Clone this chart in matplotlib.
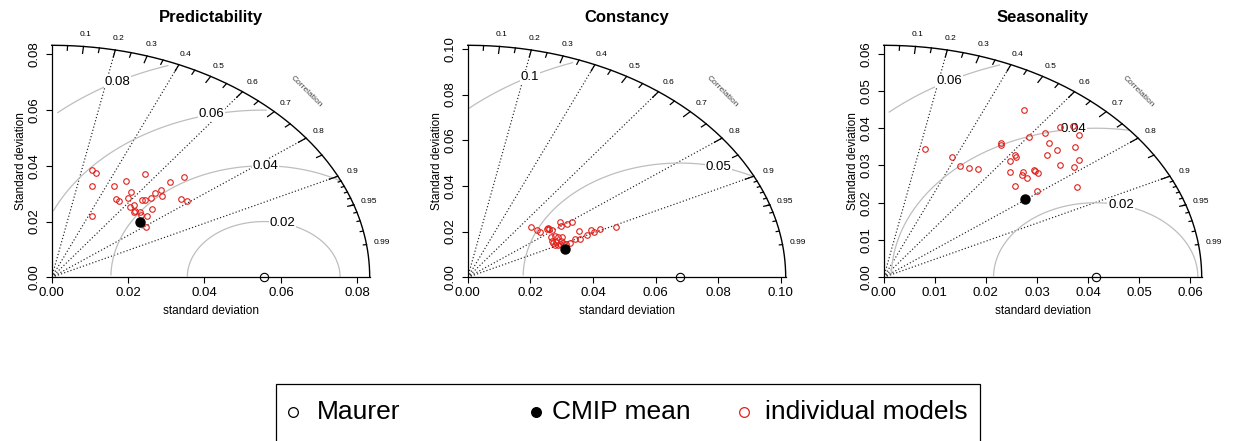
import numpy as np
import matplotlib
matplotlib.use("Agg")
import matplotlib.pyplot as plt
from matplotlib.lines import Line2D
from matplotlib.patches import Rectangle

plt.rcParams["font.family"] = ["Liberation Sans", "DejaVu Sans"]

# ---------------------------------------------------------------------------
# DATA (standard deviation / correlation)
# ---------------------------------------------------------------------------
TITLES = ["Predictability", "Constancy", "Seasonality"]
REF_SD = [0.0555, 0.0677, 0.0415]          # Maurer (reference)
MEAN_SD = [0.0304, 0.0334, 0.0347]         # CMIP mean
MEAN_COR = [0.758, 0.927, 0.798]
GAMMAS = [[0.02, 0.04, 0.06, 0.08], [0.05, 0.1], [0.02, 0.04, 0.06]]
SD_TICKS = [
    [0.00, 0.02, 0.04, 0.06, 0.08],
    [0.00, 0.02, 0.04, 0.06, 0.08, 0.10],
    [0.00, 0.01, 0.02, 0.03, 0.04, 0.05, 0.06],
]
CORR_LINES = [0.2, 0.4, 0.6, 0.8, 0.9]
CORR_LABELS = [0.1, 0.2, 0.3, 0.4, 0.5, 0.6, 0.7, 0.8, 0.9, 0.95, 0.99]

pred_sd = [0.0400, 0.0392, 0.0345, 0.0244, 0.0367, 0.0396, 0.0442, 0.0329,
           0.0325, 0.0348, 0.0368, 0.0324, 0.0336, 0.0318, 0.0323, 0.0329,
           0.0324, 0.0364, 0.0369, 0.0385, 0.0405, 0.0424, 0.0409, 0.0358,
           0.0333, 0.0305, 0.0460, 0.0500, 0.0440, 0.0447]
pred_cor = [0.263, 0.295, 0.307, 0.429, 0.446, 0.493, 0.550, 0.514, 0.544,
            0.572, 0.562, 0.629, 0.641, 0.674, 0.677, 0.699, 0.721, 0.646,
            0.661, 0.673, 0.665, 0.672, 0.705, 0.730, 0.749, 0.808, 0.673,
            0.691, 0.770, 0.793]

const_sd = [0.0300, 0.0303, 0.0305, 0.0328, 0.0333, 0.0335, 0.0339, 0.0381,
            0.0373, 0.0393, 0.0411, 0.0407, 0.0319, 0.0331, 0.0339, 0.0350,
            0.0311, 0.0312, 0.0322, 0.0328, 0.0340, 0.0313, 0.0321, 0.0338,
            0.0348, 0.0360, 0.0381, 0.0395, 0.0424, 0.0446, 0.0448, 0.0473,
            0.0524]
const_cor = [0.679, 0.732, 0.762, 0.768, 0.766, 0.773, 0.796, 0.772, 0.802,
             0.807, 0.808, 0.870, 0.832, 0.839, 0.852, 0.862, 0.861, 0.875,
             0.879, 0.896, 0.896, 0.889, 0.899, 0.885, 0.906, 0.911, 0.897,
             0.905, 0.902, 0.886, 0.897, 0.895, 0.906]

seas_sd = [0.0354, 0.0350, 0.0334, 0.0336, 0.0344, 0.0427, 0.0424, 0.0397,
           0.0375, 0.0417, 0.0414, 0.0355, 0.0393, 0.0385, 0.0388, 0.0525,
           0.0472, 0.0413, 0.0412, 0.0411, 0.0379, 0.0501, 0.0458, 0.0485,
           0.0482, 0.0532, 0.0458, 0.0550, 0.0512, 0.0477, 0.0541, 0.0495,
           0.0450]
seas_cor = [0.231, 0.382, 0.445, 0.495, 0.537, 0.538, 0.542, 0.621, 0.658,
            0.618, 0.627, 0.725, 0.696, 0.701, 0.725, 0.522, 0.601, 0.714,
            0.721, 0.733, 0.793, 0.632, 0.699, 0.667, 0.704, 0.650, 0.755,
            0.672, 0.730, 0.783, 0.706, 0.774, 0.843]

MODEL_SD = [pred_sd, const_sd, seas_sd]
MODEL_COR = [pred_cor, const_cor, seas_cor]
LEGEND_LABELS = ["Maurer", "CMIP mean", "individual models"]


def polar(sd, cor):
    sd = np.asarray(sd, dtype=float)
    cor = np.asarray(cor, dtype=float)
    return sd * cor, sd * np.sqrt(1 - cor ** 2)


def taylor(ax, title, ref_sd, sd, cor, mean_sd, mean_cor, gammas, ticks):
    maxsd = 1.5 * ref_sd
    ax.set_xlim(0, maxsd)
    ax.set_ylim(0, maxsd)
    ax.spines[["top", "right"]].set_visible(False)
    ax.spines[["left", "bottom"]].set_linewidth(0.9)

    # dotted correlation rays
    for g in CORR_LINES:
        ax.plot([0, maxsd * g], [0, maxsd * np.sqrt(1 - g * g)],
                ls=(0, (1, 1.8)), color="#222222", lw=0.85)

    # centred RMS difference arcs (grey)
    t = np.arange(0, np.pi, 0.03)
    lab_idx = np.linspace(45, 70, len(gammas)).astype(int) - 1
    for g, li in zip(gammas, lab_idx):
        xc = np.cos(t) * g + ref_sd
        yc = np.sin(t) * g
        keep = (xc >= 0) & (xc ** 2 + yc ** 2 <= maxsd ** 2)
        ax.plot(xc[keep], yc[keep], color="#bebebe", lw=0.9)
        if xc[li] > 0:
            ax.text(xc[li], yc[li], f"{g:g}", ha="center", va="center",
                    fontsize=9.5, zorder=4,
                    bbox=dict(fc="white", ec="none", pad=0.6))

    # outer correlation arc and its ticks
    a = np.linspace(0, np.pi / 2, 200)
    ax.plot(np.cos(a) * maxsd, np.sin(a) * maxsd, color="black", lw=1.0,
            clip_on=False)
    tick_sets = [(np.arange(1, 10) / 10, 0.97),
                 (np.arange(5, 100, 10) / 100, 0.98),
                 (np.arange(91, 100) / 100, 0.99)]
    for vals, frac in tick_sets:
        for ang in np.arccos(vals):
            ax.plot([np.cos(ang) * maxsd, np.cos(ang) * frac * maxsd],
                    [np.sin(ang) * maxsd, np.sin(ang) * frac * maxsd],
                    color="black", lw=0.9, clip_on=False)
    for c in CORR_LABELS:
        ang = np.arccos(c)
        ax.text(np.cos(ang) * 1.05 * maxsd, np.sin(ang) * 1.05 * maxsd,
                f"{c:g}", fontsize=6, ha="center", va="center",
                clip_on=False)
    ax.text(0.8 * maxsd, 0.8 * maxsd, "Correlation", rotation=-45,
            fontsize=6, color="#444444", ha="center", va="center")

    # points
    mx, my = polar(sd, cor)
    ax.plot(mx, my, "o", mfc="none", mec="#e0201b", ms=4, mew=0.8,
            clip_on=False, zorder=5)
    cx, cy = polar([mean_sd], [mean_cor])
    ax.plot(cx, cy, "o", color="black", ms=6.5, zorder=6)
    ax.plot([ref_sd], [0], "o", mfc="none", mec="black", ms=6, mew=0.8,
            clip_on=False, zorder=6)

    # axes
    labels = [f"{v:.2f}" for v in ticks]
    ax.set_xticks(ticks)
    ax.set_xticklabels(labels)
    ax.set_yticks(ticks)
    ax.set_yticklabels(labels, rotation=90, va="center")
    ax.tick_params(direction="out", length=4.3, width=0.8, labelsize=9.5)
    ax.tick_params(axis="x", pad=2.5)
    ax.tick_params(axis="y", pad=4)
    ax.set_xlabel("standard deviation", fontsize=8.5)
    ax.xaxis.set_label_coords(0.5, -0.144)
    ax.xaxis.label.set_va("center")
    ax.set_ylabel("Standard deviation", fontsize=8.5)
    ax.yaxis.set_label_coords(-0.095, 0.5)
    ax.yaxis.label.set_va("center")
    ax.text(0.5, 1.118, title, transform=ax.transAxes, ha="center",
            va="center", fontsize=12, fontweight="bold")


W, H = 1233, 441
fig = plt.figure(figsize=(W / 100, H / 100), dpi=100)
lefts = [51.7, 467.7, 883.7]
for i in range(3):
    ax = fig.add_axes([lefts[i] / W, (H - 277.3) / H, 318 / W, 232 / H])
    taylor(ax, TITLES[i], REF_SD[i], MODEL_SD[i], MODEL_COR[i],
           MEAN_SD[i], MEAN_COR[i], GAMMAS[i], SD_TICKS[i])

# ---------------------------------------------------------------------------
# legend box (bottom edge runs off the figure, as in the original)
# ---------------------------------------------------------------------------
fig.add_artist(Rectangle((276 / W, (H - 446) / H), (980 - 276) / W, 62 / H,
                         transform=fig.transFigure, fill=False,
                         ec="black", lw=0.9))
leg_y = 1 - 412 / H
marker_x = [293, 536, 744]
text_x = [317, 552, 765]
styles = [dict(mfc="none", mec="black", mew=0.9),
          dict(mfc="black", mec="black", mew=0.9),
          dict(mfc="none", mec="#e0201b", mew=0.9)]
for lab, mx, tx, st in zip(LEGEND_LABELS, marker_x, text_x, styles):
    fig.add_artist(Line2D([mx / W], [leg_y], marker="o", ms=7, ls="none",
                          transform=fig.transFigure, **st))
    fig.text(tx / W, leg_y, lab, fontsize=19, ha="left", va="center")

fig.savefig("out.png", dpi=100)
